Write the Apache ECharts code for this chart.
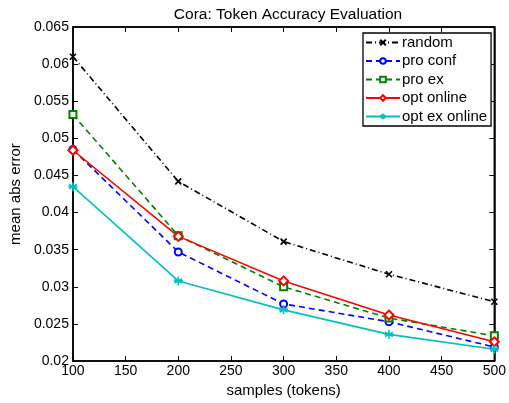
<!DOCTYPE html>
<html><head><meta charset="utf-8">
<script src="https://cdn.jsdelivr.net/npm/echarts@6/dist/echarts.min.js"></script>
<style>html,body{margin:0;padding:0;background:#fff}#c{width:509px;height:403px}</style>
</head><body><div id="c"></div>
<script>
var samples = [100, 200, 300, 400, 500];
var xTicks = [100, 150, 200, 250, 300, 350, 400, 450, 500];
var yTicks = [0.02, 0.025, 0.03, 0.035, 0.04, 0.045, 0.05, 0.055, 0.06, 0.065];
var random = [0.0610, 0.0442, 0.0361, 0.0317, 0.0280];
var proConf = [0.0485, 0.0347, 0.0277, 0.0253, 0.0219];
var proEx = [0.0532, 0.0369, 0.0300, 0.0258, 0.0234];
var optOnline = [0.0484, 0.0368, 0.0308, 0.0262, 0.0226];
var optExOnline = [0.0435, 0.0308, 0.0269, 0.0236, 0.0216];

var F = 'Liberation Sans, Arial, Helvetica, sans-serif';
function pairs(v){ return samples.map(function(s,i){ return [s, v[i]]; }); }
var xMark = 'path://M0,0L10,10M10,0L0,10';
var starMark = 'path://M5,0L5,10M0.7,2.5L9.3,7.5M0.7,7.5L9.3,2.5M0,5L10,5';

function mk(name, data, color, type, symbol, size){
  return {
    name: name, type: 'line', data: pairs(data),
    symbol: symbol, symbolSize: size,
    lineStyle: {color: color, width: 1.6, type: type},
    itemStyle: {color: color, borderColor: color, borderWidth: 1.6},
    emphasis: {disabled: true}, animation: false
  };
}

var chart = echarts.init(document.getElementById('c'));
chart.setOption({
  animation: false,
  title: {text: 'Cora: Token Accuracy Evaluation', left: 283, top: 2, textAlign: 'center',
    textStyle: {fontFamily: F, fontSize: 15.5, fontWeight: 'normal', color: '#000'}},
  grid: {left: 67, right: 12, top: 27, bottom: 39, show: true, borderColor: '#000', borderWidth: 1.5, backgroundColor: '#fff'},
  legend: {
    orient: 'vertical', left: 363, top: 33, padding: [2, 4, 2, 2], itemGap: 3.5,
    itemWidth: 34, itemHeight: 7,
    backgroundColor: '#fff', borderColor: '#000', borderWidth: 1.3, borderRadius: 0,
    textStyle: {fontFamily: F, fontSize: 15, color: '#000', padding: [0,0,0,-3], lineHeight: 15},
    data: ['random', 'pro conf', 'pro ex', 'opt online', 'opt ex online']
  },
  xAxis: [{
    type: 'value', min: 100, max: 500, interval: 50,
    name: 'samples (tokens)', nameLocation: 'middle', nameGap: 20,
    nameTextStyle: {fontFamily: F, fontSize: 15, color: '#000'},
    axisLine: {show: true, lineStyle: {color: '#000', width: 1.5}},
    axisTick: {inside: true, length: 5, lineStyle: {color: '#000'}},
    axisLabel: {fontFamily: F, fontSize: 14, color: '#000', margin: 3},
    splitLine: {show: false}
  }, {
    type: 'value', min: 100, max: 500, interval: 50, position: 'top',
    axisLine: {show: true, lineStyle: {color: '#000', width: 1.5}},
    axisTick: {inside: true, length: 5, lineStyle: {color: '#000'}},
    axisLabel: {show: false}, splitLine: {show: false}
  }],
  yAxis: [{
    type: 'value', min: 0.02, max: 0.065, interval: 0.005,
    name: 'mean abs error', nameLocation: 'middle', nameGap: 46,
    nameTextStyle: {fontFamily: F, fontSize: 15, color: '#000'},
    axisLine: {show: true, lineStyle: {color: '#000', width: 1.5}},
    axisTick: {inside: true, length: 5, lineStyle: {color: '#000'}},
    axisLabel: {fontFamily: F, fontSize: 14, color: '#000', margin: 4,
      formatter: function(v){ return String(parseFloat(v.toFixed(3))); }},
    splitLine: {show: false}
  }, {
    type: 'value', min: 0.02, max: 0.065, interval: 0.005, position: 'right',
    axisLine: {show: true, lineStyle: {color: '#000', width: 1.5}},
    axisTick: {inside: true, length: 5, lineStyle: {color: '#000'}},
    axisLabel: {show: false}, splitLine: {show: false}
  }],
  series: [
    mk('random', random, '#000000', [6, 3, 1, 3], xMark, 6),
    mk('pro conf', proConf, '#0000ff', [6, 4], 'emptyCircle', 7),
    mk('pro ex', proEx, '#008000', [6, 4], 'emptyRect', 7),
    mk('opt online', optOnline, '#ff0000', 'solid', 'emptyDiamond', 9),
    mk('opt ex online', optExOnline, '#00bfbf', 'solid', starMark, 9)
  ]
});
</script></body></html>
